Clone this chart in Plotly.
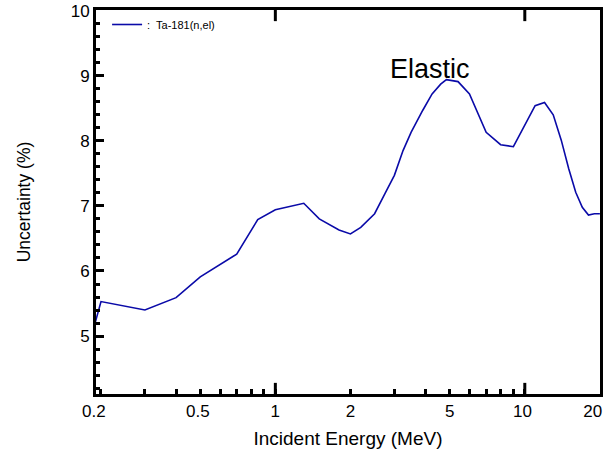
import math
import plotly.graph_objects as go

# Data
energy = [0.19, 0.2, 0.3, 0.4, 0.5, 0.7, 0.85, 1.0, 1.3, 1.5, 1.8, 2.0, 2.2, 2.5, 2.75,
          3.0, 3.25, 3.5, 3.9, 4.25, 4.6, 4.85, 5.4, 6.0, 7.0, 8.0, 9.0, 11.0, 12.0,
          13.0, 14.0, 15.0, 16.0, 17.0, 18.0, 19.0, 20.0]
uncert = [5.22, 5.53, 5.40, 5.59, 5.91, 6.26, 6.79, 6.94, 7.04, 6.80, 6.63, 6.57, 6.67,
          6.88, 7.19, 7.47, 7.85, 8.13, 8.47, 8.72, 8.87, 8.94, 8.91, 8.72, 8.13, 7.94,
          7.91, 8.54, 8.59, 8.40, 8.01, 7.57, 7.21, 6.98, 6.86, 6.88, 6.88]

x_label_vals = [0.2, 0.5, 1, 2, 5, 10, 20]
x_label_text = ["0.2&nbsp;&nbsp;&nbsp;", "0.5&nbsp;", "1", "2", "5", "10&nbsp;", "20&nbsp;&nbsp;&nbsp;"]
x_minor_vals = [0.3, 0.4, 0.6, 0.7, 0.8, 0.9, 3, 4, 6, 7, 8, 9]
x_decades = [1, 10]

series_name = ":  Ta-181(n,el)"
annotation_text = "Elastic"

FONT = "Liberation Sans, Arial, Helvetica, sans-serif"
INK = "rgb(0,0,0)"
xrange = [math.log10(0.191), math.log10(20.02)]
yrange = [4.11, 10.01]

fig = go.Figure()
fig.add_trace(go.Scatter(x=energy, y=uncert, mode="lines", name=series_name,
                         line=dict(color="#0a0aa8", width=1.6)))

shapes = []
for d in x_decades:
    shapes.append(dict(type="line", xref="x", yref="paper", x0=d, x1=d, y0=0, y1=0.029,
                       line=dict(color=INK, width=3)))
    shapes.append(dict(type="line", xref="x", yref="paper", x0=d, x1=d, y0=1, y1=0.971,
                       line=dict(color=INK, width=3)))

fig.update_layout(
    template="none",
    width=606, height=456,
    margin=dict(l=96, r=6, t=10, b=62),
    showlegend=True,
    legend=dict(x=0.022, y=1.0, xanchor="left", yanchor="top",
                font=dict(size=11, family=FONT, color="black"), itemwidth=30),
    xaxis=dict(type="log", range=xrange, showgrid=False,
               showline=True, linecolor=INK, linewidth=3, mirror=True,
               ticks="inside", tickmode="array", tickvals=x_label_vals,
               ticktext=x_label_text, ticklen=5, tickwidth=3, tickcolor=INK,
               ticklabeloverflow="allow",
               tickfont=dict(size=17, family=FONT, color="black"),
               minor=dict(tickmode="array", tickvals=x_minor_vals, ticks="inside",
                          ticklen=5, tickwidth=3, tickcolor=INK),
               title=dict(text="Incident Energy (MeV)",
                          font=dict(size=19, family=FONT, color="black"), standoff=12)),
    yaxis=dict(range=yrange, showgrid=False,
               showline=True, linecolor=INK, linewidth=3, mirror=True,
               ticks="inside", dtick=1, ticklen=8, tickwidth=3, tickcolor=INK,
               tickfont=dict(size=17, family=FONT, color="black"),
               minor=dict(dtick=0.2, ticks="inside", ticklen=4, tickwidth=3,
                          tickcolor=INK),
               title=dict(text="Uncertainty (%)",
                          font=dict(size=17.5, family=FONT, color="black"), standoff=36)),
    shapes=shapes,
    annotations=[dict(x=math.log10(4.17), y=9.11, xref="x", yref="y",
                      text=annotation_text, showarrow=False,
                      font=dict(size=27, family=FONT, color="black"))],
)

fig.write_html("out.html")
